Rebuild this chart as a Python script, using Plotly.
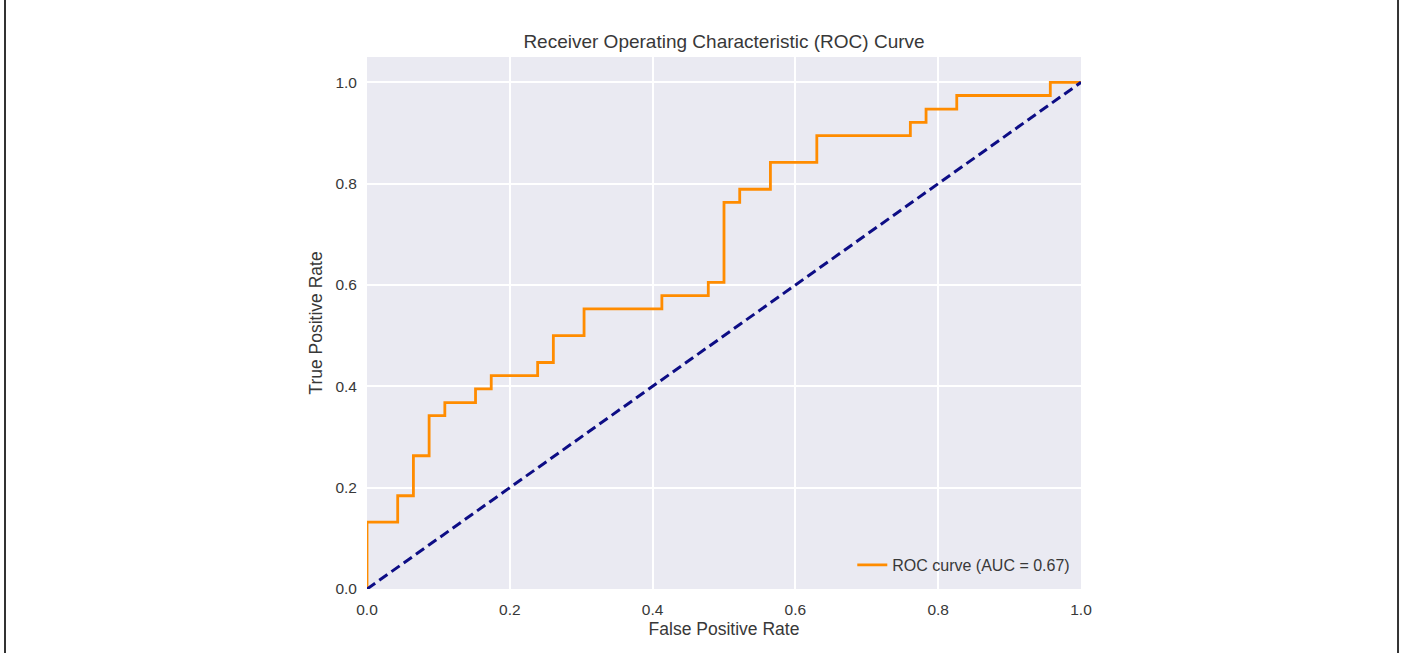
import plotly.graph_objects as go

# ROC curve corner points (false positive rate, true positive rate)
fpr = [0.0, 0.0, 0.043, 0.043, 0.065, 0.065, 0.087, 0.087, 0.109, 0.109,
       0.152, 0.152, 0.174, 0.174, 0.239, 0.239, 0.261, 0.261, 0.304, 0.304,
       0.413, 0.413, 0.478, 0.478, 0.5, 0.5, 0.522, 0.522, 0.565, 0.565,
       0.630, 0.630, 0.761, 0.761, 0.783, 0.783, 0.826, 0.826, 0.957, 0.957, 1.0]
tpr = [0.0, 0.132, 0.132, 0.184, 0.184, 0.263, 0.263, 0.342, 0.342, 0.368,
       0.368, 0.395, 0.395, 0.421, 0.421, 0.447, 0.447, 0.5, 0.5, 0.553,
       0.553, 0.579, 0.579, 0.605, 0.605, 0.763, 0.763, 0.789, 0.789, 0.842,
       0.842, 0.895, 0.895, 0.921, 0.921, 0.947, 0.947, 0.974, 0.974, 1.0, 1.0]
auc = 0.67

# chance diagonal
chance_x = [0.0, 1.0]
chance_y = [0.0, 1.0]

x_ticks = [0.0, 0.2, 0.4, 0.6, 0.8, 1.0]
y_ticks = [0.0, 0.2, 0.4, 0.6, 0.8, 1.0]

FONT = "Liberation Sans, Arial, sans-serif"
TEXT = "#383838"

fig = go.Figure()
fig.add_trace(go.Scatter(
    x=fpr, y=tpr, mode="lines",
    line=dict(color="#FF8C00", width=2.8),
    name=f"ROC curve (AUC = {auc:.2f})",
))
fig.add_trace(go.Scatter(
    x=chance_x, y=chance_y, mode="lines",
    line=dict(color="#0D0D85", width=3, dash="10px,5px"),
    showlegend=False,
))

fig.update_layout(
    width=1402, height=653,
    margin=dict(l=367, r=321, t=57, b=64),
    paper_bgcolor="white",
    plot_bgcolor="#EAEAF2",
    font=dict(family=FONT, color=TEXT, size=15.5),
    title=dict(text="Receiver Operating Characteristic (ROC) Curve",
               x=0.5, xref="paper", xanchor="center",
               y=0.937, yref="container", yanchor="middle",
               font=dict(size=19, color=TEXT)),
    xaxis=dict(range=[0, 1], tickvals=x_ticks,
               ticktext=[f"{v:.1f}" for v in x_ticks],
               showgrid=True, gridcolor="white", gridwidth=1.6,
               zeroline=False, showline=False, ticks="",
               ticklabelstandoff=9,
               title=dict(text="False Positive Rate", font=dict(size=17.5), standoff=6)),
    yaxis=dict(range=[0, 1.05], tickvals=y_ticks,
               ticktext=[f"{v:.1f}" for v in y_ticks],
               showgrid=True, gridcolor="white", gridwidth=1.6,
               zeroline=False, showline=False, ticks="",
               ticklabelstandoff=9,
               title=dict(text="True Positive Rate", font=dict(size=17.5), standoff=8)),
    legend=dict(x=0.992, y=0.045, xanchor="right", yanchor="middle",
                bgcolor="rgba(0,0,0,0)", font=dict(size=16, color=TEXT)),
    shapes=[dict(type="rect", xref="paper", yref="paper",
                 x0=-0.507, x1=1.444, y0=-0.2, y1=1.152,
                 line=dict(color="#333333", width=2), layer="below")],
)

fig.write_html("out.html")
